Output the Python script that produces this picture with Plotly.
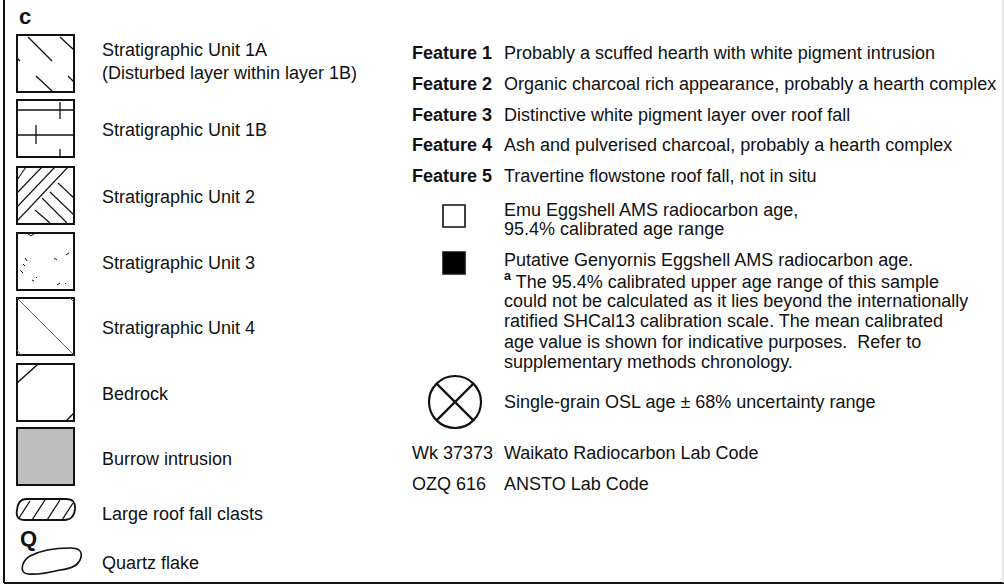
import plotly.graph_objects as go

W, H = 1004, 586
FONT = "Liberation Sans, Arial, Helvetica, sans-serif"
FS = 18

# ---- legend content ----
panel_label = "c"
unit_labels = [
    ["Stratigraphic Unit 1A", "(Disturbed layer within layer 1B)"],
    ["Stratigraphic Unit 1B"],
    ["Stratigraphic Unit 2"],
    ["Stratigraphic Unit 3"],
    ["Stratigraphic Unit 4"],
    ["Bedrock"],
    ["Burrow intrusion"],
]
unit_label_y = [[50, 73], [130], [197], [263], [328], [394], [459]]
swatch_tops = [35, 100, 167, 233, 298, 364, 428]
clast_label = "Large roof fall clasts"
quartz_letter = "Q"
quartz_label = "Quartz flake"

feature_names = ["Feature 1", "Feature 2", "Feature 3", "Feature 4", "Feature 5"]
feature_desc = [
    "Probably a scuffed hearth with white pigment intrusion",
    "Organic charcoal rich appearance, probably a hearth complex",
    "Distinctive white pigment layer over roof fall",
    "Ash and pulverised charcoal, probably a hearth complex",
    "Travertine flowstone roof fall, not in situ",
]
feature_y = [53, 84, 115, 145, 176]

emu_lines = ["Emu Eggshell AMS radiocarbon age,", "95.4% calibrated age range"]
genyornis_lines = [
    "Putative Genyornis Eggshell AMS radiocarbon age.",
    "<sup><b>a</b></sup> The 95.4% calibrated upper age range of this sample",
    "could not be calculated as it lies beyond the internationally",
    "ratified SHCal13 calibration scale. The mean calibrated",
    "age value is shown for indicative purposes.  Refer to",
    "supplementary methods chronology.",
]
osl_label = "Single-grain OSL age ± 68% uncertainty range"
lab_codes = ["Wk 37373", "OZQ 616"]
lab_names = ["Waikato Radiocarbon Lab Code", "ANSTO Lab Code"]
lab_y = [453, 484]

fig = go.Figure()
shapes = []
ann = []

def line(x0, y0, x1, y1, color="#111", width=1.3):
    shapes.append(dict(type="line", x0=x0, y0=y0, x1=x1, y1=y1,
                       line=dict(color=color, width=width), layer="above"))

def text(x, y, s, size=FS, bold=False, anchor="left"):
    if bold:
        s = "<b>" + s + "</b>"
    ann.append(dict(x=x, y=y, text=s, showarrow=False, xanchor=anchor, yanchor="middle",
                    font=dict(family=FONT, size=size, color="#111")))

# frame
line(4, 0, 4, 583, width=2)
line(4, 583, W, 583, width=2)
line(1003, 0, 1003, 583, color="#cccccc", width=1)

text(17, 16, panel_label, size=22, bold=True)

SX0, SX1, SS = 17, 74, 57
for i, top in enumerate(swatch_tops):
    fill = "#bebebe" if i == 6 else "white"
    shapes.append(dict(type="rect", x0=SX0, y0=top, x1=SX1, y1=top + SS,
                       line=dict(color="#111", width=2), fillcolor=fill, layer="below"))
    for s, y in zip(unit_labels[i], unit_label_y[i]):
        text(100, y, s)

# hatch patterns (relative to swatch top)
t = swatch_tops
# Unit 1A
for a in [(28, 2, 52, 26), (60, 2, 74, 15), (36, 41, 52, 56), (68, 41, 74, 47), (17, 23, 20, 26)]:
    line(a[0], t[0] + a[1], a[2], t[0] + a[3])
# Unit 1B
line(17, t[1] + 10, 74, t[1] + 10)
line(17, t[1] + 35, 74, t[1] + 35)
line(60, t[1] + 2, 60, t[1] + 19)
line(36, t[1] + 25, 36, t[1] + 44)
line(60, t[1] + 49, 60, t[1] + 57)
# Unit 2
for a in [(17, 13, 26, 0), (17, 26, 42, 0), (17, 40, 55, 0), (17, 54, 68, 0),
          (58, 16, 74, 31), (50, 25, 74, 48), (42, 31, 67, 56), (35, 43, 50, 56)]:
    line(a[0], t[2] + a[1], a[2], t[2] + a[3], width=1.1)
# Unit 3 (scattered marks)
for a in [(25, 25, 27, 28), (23, 31, 25, 33), (20, 37, 23, 40), (54, 25, 57, 27),
          (66, 22, 69, 20), (32, 47, 34, 48), (36, 44, 37, 45), (57, 52, 60, 50), (65, 50, 66, 51),
          (28, 1, 31, 3), (31, 3, 34, 1)]:
    line(a[0], t[3] + a[1], a[2], t[3] + a[3], width=1)
# Unit 4
line(17, t[4], 74, t[4] + 57, color="#666", width=1)
line(70, t[4], 74, t[4] + 4, color="#666", width=1)
line(17, t[4] + 52, 21, t[4] + 57, color="#666", width=1)
# Bedrock
line(17, t[5] + 19, 37, t[5] + 1, width=1.5)
line(67, t[5] + 56, 74, t[5] + 49, width=1.5)

# Large roof fall clast (pill with hatching)
shapes.append(dict(type="path",
                   path="M 26 499 L 66 499 Q 76 499 75 509 Q 74 520 64 520 L 25 520 Q 15 520 17 510 Q 18 499 26 499 Z",
                   line=dict(color="#111", width=1.8), fillcolor="white"))
for a in [(19, 518, 30, 501), (32, 520, 45, 500), (47, 520, 60, 500), (62, 520, 73, 503)]:
    line(*a, width=1.3)
text(100, 514, clast_label)

# Quartz flake
text(28, 538, quartz_letter, size=22, bold=True, anchor="center")
shapes.append(dict(type="path",
                   path="M 30 556 Q 45 548 70 548 Q 83 548 81 557 Q 79 568 60 570 Q 40 575 28 574 Q 20 573 23 564 Q 25 559 30 556 Z",
                   line=dict(color="#111", width=1.6), fillcolor="white"))
text(100, 563, quartz_label)

# Features
for n, d, y in zip(feature_names, feature_desc, feature_y):
    text(410, y, n, bold=True)
    text(502, y, d)

# Emu eggshell symbol
shapes.append(dict(type="rect", x0=443, y0=205, x1=465, y1=227,
                   line=dict(color="#111", width=1.6), fillcolor="white"))
for s, y in zip(emu_lines, [210, 229]):
    text(502, y, s)

# Genyornis symbol
shapes.append(dict(type="rect", x0=443, y0=252, x1=465, y1=274,
                   line=dict(color="#111", width=1.6), fillcolor="#000"))
for k, s in enumerate(genyornis_lines):
    text(502, 260 + k * 20.4, s)

# OSL symbol
cx, cy, r = 455, 402, 26
shapes.append(dict(type="circle", x0=cx - r, y0=cy - r, x1=cx + r, y1=cy + r,
                   line=dict(color="#111", width=2.2), fillcolor="white"))
d = r * 0.7071
line(cx - d, cy - d, cx + d, cy + d, width=2.2)
line(cx - d, cy + d, cx + d, cy - d, width=2.2)
text(502, 402, osl_label)

for c, n, y in zip(lab_codes, lab_names, lab_y):
    text(410, y, c)
    text(502, y, n)

fig.update_layout(
    width=W, height=H, margin=dict(l=0, r=0, t=0, b=0),
    paper_bgcolor="white", plot_bgcolor="white",
    xaxis=dict(range=[0, W], visible=False, fixedrange=True),
    yaxis=dict(range=[H, 0], visible=False, fixedrange=True),
    shapes=shapes, annotations=ann, showlegend=False,
)
fig.write_html("out.html", config={"displayModeBar": False})

# remove default page margin so the figure sits at the window origin
with open("out.html", encoding="utf-8") as f:
    html = f.read()
html = html.replace("<head>", "<head><style>html,body{margin:0;padding:0;overflow:hidden;}</style>", 1)
with open("out.html", "w", encoding="utf-8") as f:
    f.write(html)
